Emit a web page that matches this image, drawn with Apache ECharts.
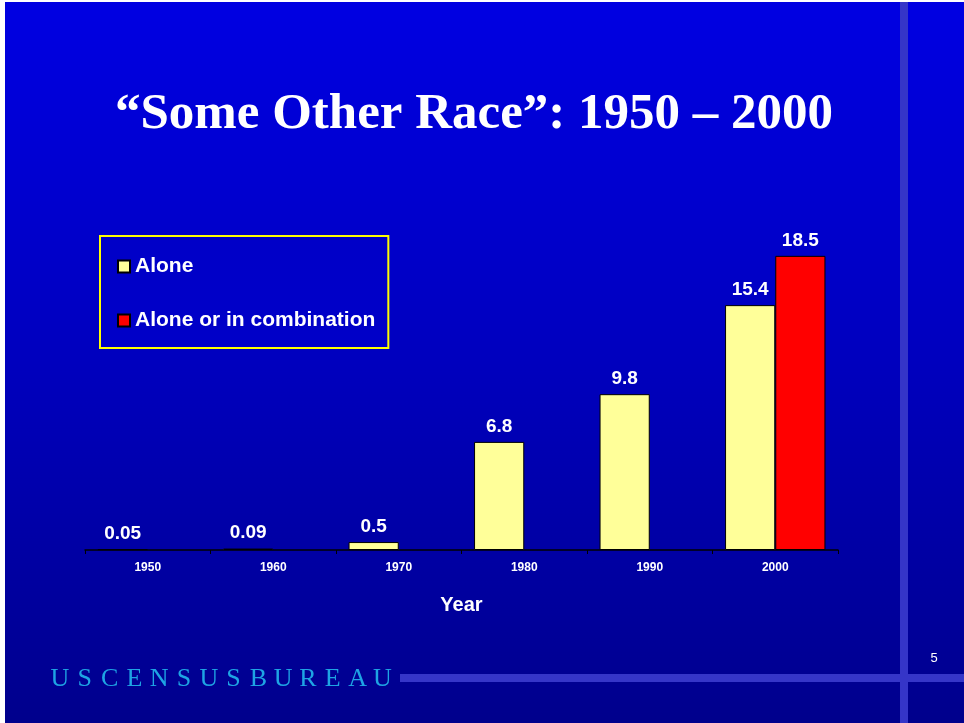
<!DOCTYPE html>
<html>
<head>
<meta charset="utf-8">
<script src="https://cdn.jsdelivr.net/npm/echarts@6/dist/echarts.min.js"></script>
<style>
html,body{margin:0;padding:0;background:#fff;}
#chart{position:absolute;left:5px;top:2px;width:959px;height:721px;}
</style>
</head>
<body>
<div id="chart"></div>
<script>
const categories = ['1950', '1960', '1970', '1980', '1990', '2000'];
const aloneValues = [0.05, 0.09, 0.5, 6.8, 9.8, 15.4];
const comboValues = [null, null, null, null, null, 18.5];
const seriesNames = ['Alone', 'Alone or in combination'];
const titleText = '\u201CSome Other Race\u201D: 1950 \u2013 2000';
const brandLetters = 'USCENSUSBUREAU'.split('');

const chart = echarts.init(document.getElementById('chart'));
const OX = 5, OY = 2; // container offset

const graphics = [
  { type: 'rect', silent: true, shape: { x: 900 - OX, y: 0, width: 8, height: 723 }, style: { fill: '#3535C8' } },
  { type: 'rect', silent: true, shape: { x: 400 - OX, y: 674 - OY, width: 600, height: 8 }, style: { fill: '#3535C8' } },
  { type: 'text', silent: true, x: 934 - OX, y: 658 - OY, style: { text: '5', fill: '#ffffff', font: '13px "Liberation Sans", Arial, sans-serif', align: 'center', verticalAlign: 'middle' } }
];
brandLetters.forEach(function (ch, i) {
  graphics.push({ type: 'text', silent: true, x: 60 - OX + i * 24.8, y: 679 - OY,
    style: { text: ch, fill: '#1EA4E4', font: '26px "Liberation Serif", serif', align: 'center', verticalAlign: 'middle' } });
});

const labelStyle = { show: true, position: 'top', distance: 6, color: '#ffffff', fontWeight: 'bold', fontSize: 19, fontFamily: '"Liberation Sans", Arial, sans-serif' };

chart.setOption({
  backgroundColor: { type: 'linear', x: 0, y: 0, x2: 0, y2: 1, colorStops: [
    { offset: 0, color: '#0000E2' }, { offset: 0.5, color: '#0000BE' }, { offset: 1, color: '#00008C' } ] },
  animation: false,
  title: {
    text: titleText, left: 469 - OX, top: 84 - OY, textAlign: 'center',
    textStyle: { color: '#ffffff', fontFamily: '"Liberation Serif", "Times New Roman", serif', fontWeight: 'bold', fontSize: 51,
      textShadowColor: '#000000', textShadowOffsetX: 3, textShadowOffsetY: 3, textShadowBlur: 0 }
  },
  legend: {
    orient: 'vertical', left: 100 - OX, top: 236 - OY,
    padding: [20, 13, 17, 17], itemGap: 33, itemWidth: 12, itemHeight: 12,
    backgroundColor: '#0000C8', borderColor: '#FFFF00', borderWidth: 2,
    icon: 'rect',
    textStyle: { color: '#ffffff', fontWeight: 'bold', fontSize: 21, lineHeight: 18, fontFamily: '"Liberation Sans", Arial, sans-serif' },
    data: seriesNames
  },
  grid: { left: 85 - OX, right: 964 - 838, top: 232 - OY, bottom: 723 - 550 },
  xAxis: {
    type: 'category', data: categories,
    axisLine: { lineStyle: { color: '#000000', width: 1.5 } },
    axisTick: { show: true, length: 4, inside: false, lineStyle: { color: '#000000' } },
    axisLabel: { color: '#ffffff', fontWeight: 'bold', fontSize: 12, margin: 12, fontFamily: '"Liberation Sans", Arial, sans-serif' },
    name: 'Year', nameLocation: 'middle', nameGap: 45,
    nameTextStyle: { color: '#ffffff', fontWeight: 'bold', fontSize: 20, fontFamily: '"Liberation Sans", Arial, sans-serif' }
  },
  yAxis: { type: 'value', min: 0, max: 20, show: false, splitLine: { show: false } },
  series: [
    { name: seriesNames[0], type: 'bar', data: aloneValues, barGap: '0%', barCategoryGap: '20%',
      itemStyle: { color: '#FFFF99', borderColor: '#000000', borderWidth: 1 }, label: labelStyle },
    { name: seriesNames[1], type: 'bar', data: comboValues,
      itemStyle: { color: '#FF0000', borderColor: '#000000', borderWidth: 1 }, label: labelStyle }
  ],
  graphic: graphics
});
</script>
</body>
</html>
